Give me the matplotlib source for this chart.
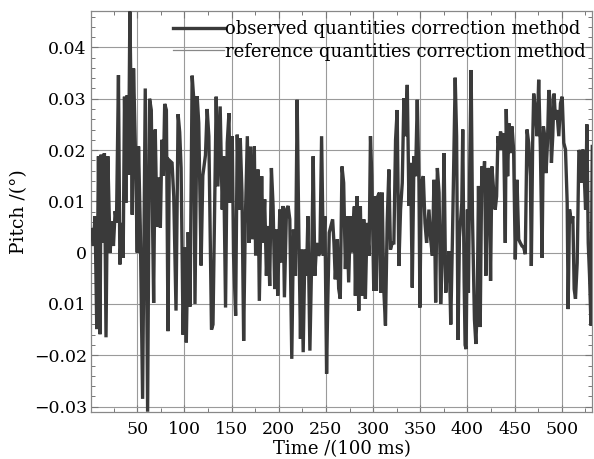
import matplotlib
matplotlib.use("Agg")
import matplotlib.pyplot as plt
from matplotlib.lines import Line2D
from matplotlib.ticker import MultipleLocator

# ---- data ----
time = [
    1.5, 3.5, 5.3, 7.1, 8.9, 10.6, 11.7, 13.1, 15.2, 16.9, 18.8, 21.3, 23.0, 24.8,
    26.6, 28.0, 30.1, 31.6, 33.7, 35.1, 36.5, 37.9, 39.4, 40.8, 42.2, 43.6, 44.7,
    46.1, 47.9, 50.0, 51.4, 53.2, 55.7, 58.5, 61.0, 63.1, 64.9, 66.3, 67.4, 69.1,
    70.9, 72.7, 74.5, 76.2, 77.7, 79.1, 80.9, 82.6, 84.0, 86.9, 88.7, 91.1, 93.3,
    95.0, 96.5, 98.6, 100.5, 102.0, 104.0, 106.0, 108.2, 109.9, 111.2, 113.5,
    115.2, 117.7, 119.5, 122.3, 124.1, 125.9, 128.7, 130.3, 133.7, 135.5, 137.9,
    140.1, 141.5, 143.6, 145.4, 147.2, 148.6, 150.7, 152.1, 154.3, 156.0, 157.8,
    159.2, 161.0, 162.8, 164.5, 166.7, 168.4, 169.9, 172.0, 174.1, 175.5, 178.0,
    179.4, 181.9, 183.3, 185.1, 186.9, 188.7, 190.4, 192.2, 194.0, 195.7, 197.5,
    198.9, 201.1, 202.8, 204.6, 206.0, 208.2, 209.9, 211.7, 213.8, 215.6, 217.7,
    219.5, 221.3, 223.0, 224.1, 225.9, 227.7, 229.4, 230.9, 233.0, 235.1, 236.5,
    238.3, 240.1, 242.2, 243.6, 245.4, 247.2, 248.9, 250.7, 251.8, 253.5, 255.3,
    257.1, 258.5, 259.9, 262.1, 263.5, 265.2, 267.0, 268.8, 270.6, 272.3, 274.1,
    275.9, 277.7, 280.1, 281.2, 283.0, 284.8, 286.5, 288.3, 290.1, 291.8, 293.6,
    295.7, 297.2, 298.6, 300.7, 302.5, 303.5, 305.0, 306.7, 308.2, 309.6, 311.3,
    313.1, 314.9, 316.7, 318.4, 320.2, 322.0, 323.8, 325.5, 327.3, 329.1, 330.9,
    332.6, 334.4, 336.2, 338.0, 339.7, 341.5, 343.3, 345.0, 346.8, 348.6, 349.6,
    351.1, 353.2, 355.0, 356.7, 359.2, 361.0, 362.8, 364.5, 366.3, 368.1, 369.9,
    371.6, 373.4, 375.2, 377.0, 378.7, 380.5, 382.3, 384.0, 387.0, 388.5, 390.0,
    391.5, 394.0, 395.0, 396.5, 397.5, 398.6, 400.0, 401.0, 402.5, 403.9, 405.3,
    407.4, 408.9, 410.3, 411.7, 413.5, 415.2, 416.7, 418.1, 419.5, 421.6, 423.0,
    424.5, 425.9, 427.7, 429.4, 430.9, 432.3, 433.7, 435.1, 436.5, 438.3, 440.1,
    441.1, 442.6, 444.0, 445.7, 447.2, 448.9, 450.7, 452.5, 454.3, 456.0, 457.8,
    459.6, 461.3, 463.1, 464.9, 466.7, 467.7, 469.1, 470.2, 472.0, 473.8, 475.5,
    477.3, 479.1, 480.5, 481.9, 483.3, 484.8, 486.2, 487.6, 489.0, 490.4, 491.8,
    493.3, 494.7, 496.8, 498.6, 500.4, 502.1, 503.9, 505.7, 506.7, 508.2, 510.3,
    511.7, 513.1, 514.5, 516.3, 518.1, 519.5, 520.9, 522.3, 523.8, 525.2, 526.6,
    528.0, 529.4, 530.9, 532.3,
]
pitch = [
    0.0045, 0.0013, 0.0071, -0.0149, 0.0188, -0.0159, 0.0191, 0.0019, 0.0194,
    -0.0165, 0.0188, 0.0, 0.0061, 0.0013, 0.0081, 0.0058, 0.0346, -0.0023, 0.0058,
    -0.001, 0.0304, 0.0097, 0.0307, 0.0152, 0.047, 0.0278, 0.0074, 0.0359, 0.0214,
    0.0, 0.0207, 0.0052, -0.0285, 0.032, -0.031, 0.030, 0.0278, 0.005, -0.0098,
    0.024, 0.005, 0.0147, 0.0049, 0.022, 0.015, 0.029, 0.0278, -0.0153, 0.018,
    0.0175, 0.011, -0.0113, 0.027, 0.0235, 0.0165, -0.016, 0.001, -0.0175, 0.004,
    -0.0105, 0.0345, 0.030, -0.010, 0.0305, 0.0253, -0.0025, 0.015, 0.019, 0.028,
    0.0227, -0.015, -0.014, 0.0304, 0.0129, 0.0285, 0.0084, 0.0188, -0.0107,
    0.0214, 0.0272, 0.0097, 0.0227, -0.0006, -0.0123, 0.0230, 0.0084, 0.0223,
    0.0117, -0.0172, 0.0058, 0.0227, 0.0019, 0.0207, 0.0026, 0.0207, -0.0006,
    0.0162, -0.0094, 0.0149, 0.0019, 0.0104, -0.0045, 0.0052, -0.0065, 0.0165,
    0.0091, -0.0071, 0.0045, -0.0084, 0.0084, -0.0019, 0.0091, -0.0087, 0.0084,
    0.0091, 0.0065, -0.0207, 0.0045, -0.0045, 0.0298, 0.0032, -0.0168, 0.0006,
    -0.0194, 0.0006, -0.0045, 0.0071, -0.0191, 0.0006, 0.0188, -0.0045, 0.0019,
    -0.0006, 0.0, 0.0227, -0.0006, 0.0071, -0.0236, -0.011, 0.0039, 0.0052,
    0.0065, 0.0019, -0.0052, 0.0026, -0.007, -0.009, 0.0168, 0.0136, -0.0032,
    0.0071, -0.0058, 0.0071, 0.0, 0.009, -0.0084, 0.011, -0.0113, 0.009, -0.0084,
    0.0065, -0.009, 0.0058, -0.0006, 0.0227, 0.0149, -0.0074, 0.011, -0.0074,
    0.011, 0.0117, -0.0078, 0.0117, -0.0071, -0.0142, 0.0058, 0.0162, 0.0006,
    0.0019, 0.0019, 0.022, 0.0278, -0.0026, 0.0084, 0.0136, 0.0301, 0.0227,
    0.0327, 0.0091, 0.0175, -0.0068, 0.0188, 0.0149, 0.0298, 0.0136, -0.0107,
    0.0136, 0.0149, 0.0058, 0.0019, 0.0084, 0.0026, -0.0006, 0.0142, -0.0097,
    0.0165, 0.0117, -0.0100, -0.0006, 0.0194, -0.0078, -0.0029, 0.0003, -0.0140,
    0.0019, 0.0341, 0.0227, -0.017, 0.003, 0.0097, 0.024, -0.0058, -0.018,
    -0.0188, 0.0084, -0.0078, 0.018, 0.0356, 0.0071, -0.013, -0.0178, -0.011,
    0.013, -0.0145, 0.0168, 0.0123, 0.0178, -0.0045, 0.0165, 0.0149, -0.0055,
    0.0168, 0.0123, 0.0084, 0.011, 0.0227, 0.0201, 0.0236, 0.0201, 0.0233,
    0.0019, 0.028, 0.0149, 0.0252, 0.0194, 0.0246, 0.0201, -0.0013, 0.0142,
    0.0026, 0.0019, 0.0013, 0.001, -0.0003, 0.024, 0.0214, 0.0149, -0.0026,
    0.0214, 0.031, 0.0278, 0.0227, 0.0337, 0.0201, -0.001, 0.0246, 0.0227,
    0.0155, 0.0214, 0.0317, 0.0298, 0.0175, 0.0227, 0.031, 0.0259, 0.0278,
    0.0227, 0.0291, 0.0304, 0.0214, 0.0201, 0.0097, -0.011, 0.0084, 0.0058,
    0.0071, -0.0071, -0.009, -0.002, 0.020, 0.0194, 0.0136, 0.0201, 0.0149,
    0.0084, 0.025, 0.0019, -0.0045, -0.0142, 0.0207,
]

x_ticks = [50, 100, 150, 200, 250, 300, 350, 400, 450, 500]
y_ticks = [0.04, 0.03, 0.02, 0.01, 0.0, -0.01, -0.02, -0.03]
y_tick_labels = ["0.04", "0.03", "0.02", "0.01", "0", "0.01", "\u22120.02", "\u22120.03"]
series_names = ["observed quantities correction method",
                "reference quantities correction method"]

# ---- figure ----
plt.rcParams["font.family"] = ["DejaVu Serif"]
fig = plt.figure(figsize=(5.94, 4.59), dpi=100)
ax = fig.add_axes([91 / 594, 1 - 411.7 / 459, (592 - 91) / 594, (411.7 - 11) / 459])

line_col = "#3a3a3a"
ax.plot(time, pitch, color=line_col, linewidth=2.4, solid_joinstyle="miter", zorder=3)

ax.set_xlim(1, 532)
ax.set_ylim(-0.031, 0.0471)

ax.set_xticks(x_ticks)
ax.set_yticks(y_ticks)
ax.set_yticklabels(y_tick_labels)
ax.xaxis.set_minor_locator(MultipleLocator(25))
ax.yaxis.set_minor_locator(MultipleLocator(0.002))
ax.tick_params(which="both", direction="in", top=True, right=True, colors="#777777",
               labelcolor="black", labelsize=12.5)
ax.tick_params(which="major", length=5, width=0.8)
ax.tick_params(which="minor", length=3, width=0.7)
ax.tick_params(axis="x", which="major", pad=7)
ax.tick_params(axis="y", which="major", pad=3)
ax.grid(True, which="major", color="#9a9a9a", linewidth=0.8)
for s in ax.spines.values():
    s.set_color("#888888")
    s.set_linewidth(0.9)

ax.set_xlabel("Time /(100 ms)", fontsize=13, labelpad=1)
ax.set_ylabel("Pitch /(\u00b0)", fontsize=13.5, labelpad=4)

handles = [Line2D([], [], color=line_col, linewidth=2.4),
           Line2D([], [], color="#888888", linewidth=0.9)]
leg = ax.legend(handles, series_names, loc="upper right", frameon=False,
                fontsize=13, handlelength=2.8, handletextpad=0.05,
                labelspacing=0.25, borderaxespad=0.0, borderpad=0.5,
                bbox_to_anchor=(1.005, 1.0))

fig.savefig("out.png", dpi=100)
